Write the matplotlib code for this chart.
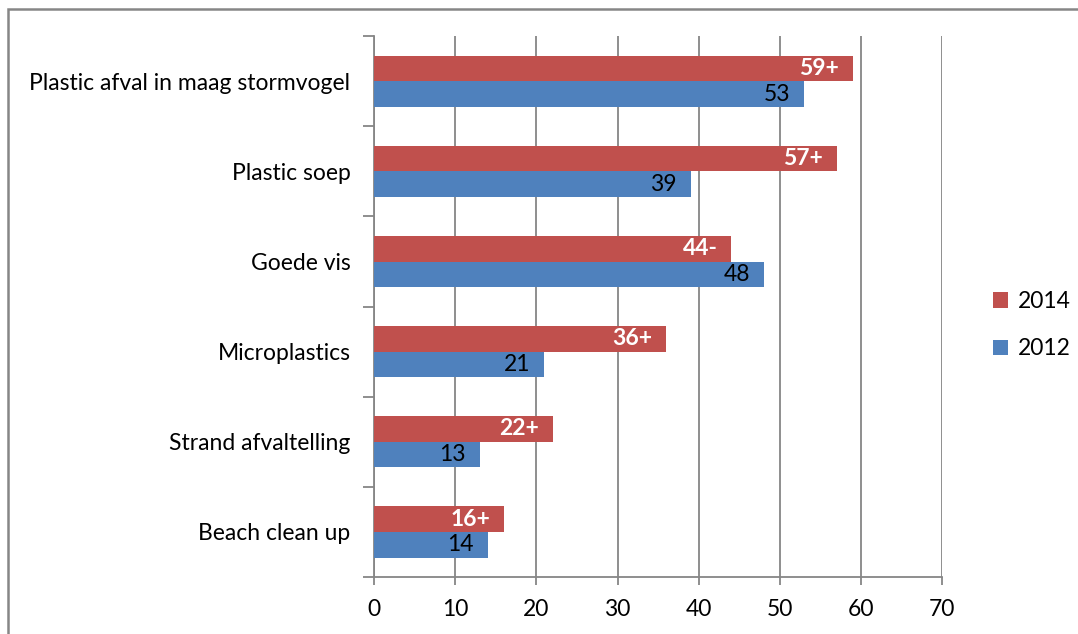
import numpy as np
import matplotlib.pyplot as plt
from matplotlib.patches import Rectangle

plt.rcParams['font.family'] = ['Lato', 'DejaVu Sans']

categories = ["Plastic afval in maag stormvogel", "Plastic soep", "Goede vis",
              "Microplastics", "Strand afvaltelling", "Beach clean up"]
vals_2014 = [59, 57, 44, 36, 22, 16]
labels_2014 = ["59+", "57+", "44-", "36+", "22+", "16+"]
vals_2012 = [53, 39, 48, 21, 13, 14]

red = '#C0504D'
blue = '#4F81BD'
grid_col = '#868686'
fs = 16.5

fig = plt.figure(figsize=(10.78, 6.34), dpi=100)
ax = fig.add_axes([0.347, 0.0899, 0.527, 0.853])

n = len(categories)
y = np.arange(n)[::-1]  # first category at the top
h = 0.285

ax.barh(y + h / 2, vals_2014, height=h, color=red, label='2014', zorder=3)
ax.barh(y - h / 2, vals_2012, height=h, color=blue, label='2012', zorder=3)

# value labels inside the bar ends
for yi, v, lab in zip(y, vals_2014, labels_2014):
    ax.text(v - 1.7, yi + h / 2, lab, ha='right', va='center', color='white',
            fontweight='bold', fontsize=fs, zorder=4)
for yi, v in zip(y, vals_2012):
    ax.text(v - 1.7, yi - h / 2, str(v), ha='right', va='center', color='black',
            fontsize=fs, zorder=4)

ax.set_xlim(0, 70)
ax.set_xticks(range(0, 71, 10))
ax.set_ylim(-0.5, n - 0.5)
ax.set_yticks(y)
ax.set_yticklabels(categories)
ax.set_yticks(np.arange(n + 1) - 0.5, minor=True)

ax.xaxis.grid(True, color=grid_col, lw=1.3, zorder=0)
ax.set_axisbelow(True)
for s in ['top', 'right']:
    ax.spines[s].set_visible(False)
for s in ['left', 'bottom']:
    ax.spines[s].set_color(grid_col)
    ax.spines[s].set_linewidth(1.3)

ax.tick_params(axis='y', which='major', length=0, pad=17, labelsize=fs)
ax.tick_params(axis='y', which='minor', length=8, width=1.3, color=grid_col)
ax.tick_params(axis='x', length=6, width=1.3, color=grid_col, pad=10, labelsize=fs)

handles, labs = ax.get_legend_handles_labels()
fig.legend(handles, labs, loc='center left', bbox_to_anchor=(0.902, 0.487),
           frameon=False, fontsize=fs, handlelength=0.65, handleheight=0.65,
           handletextpad=0.45, labelspacing=1.15)

# outer chart border
fig.patches.append(Rectangle((8 / 1078, -0.1), 1.2, (634 - 8.5) / 634 + 0.1,
                             transform=fig.transFigure, fill=False,
                             edgecolor=grid_col, lw=1.8))

fig.savefig('out.png', dpi=100)
